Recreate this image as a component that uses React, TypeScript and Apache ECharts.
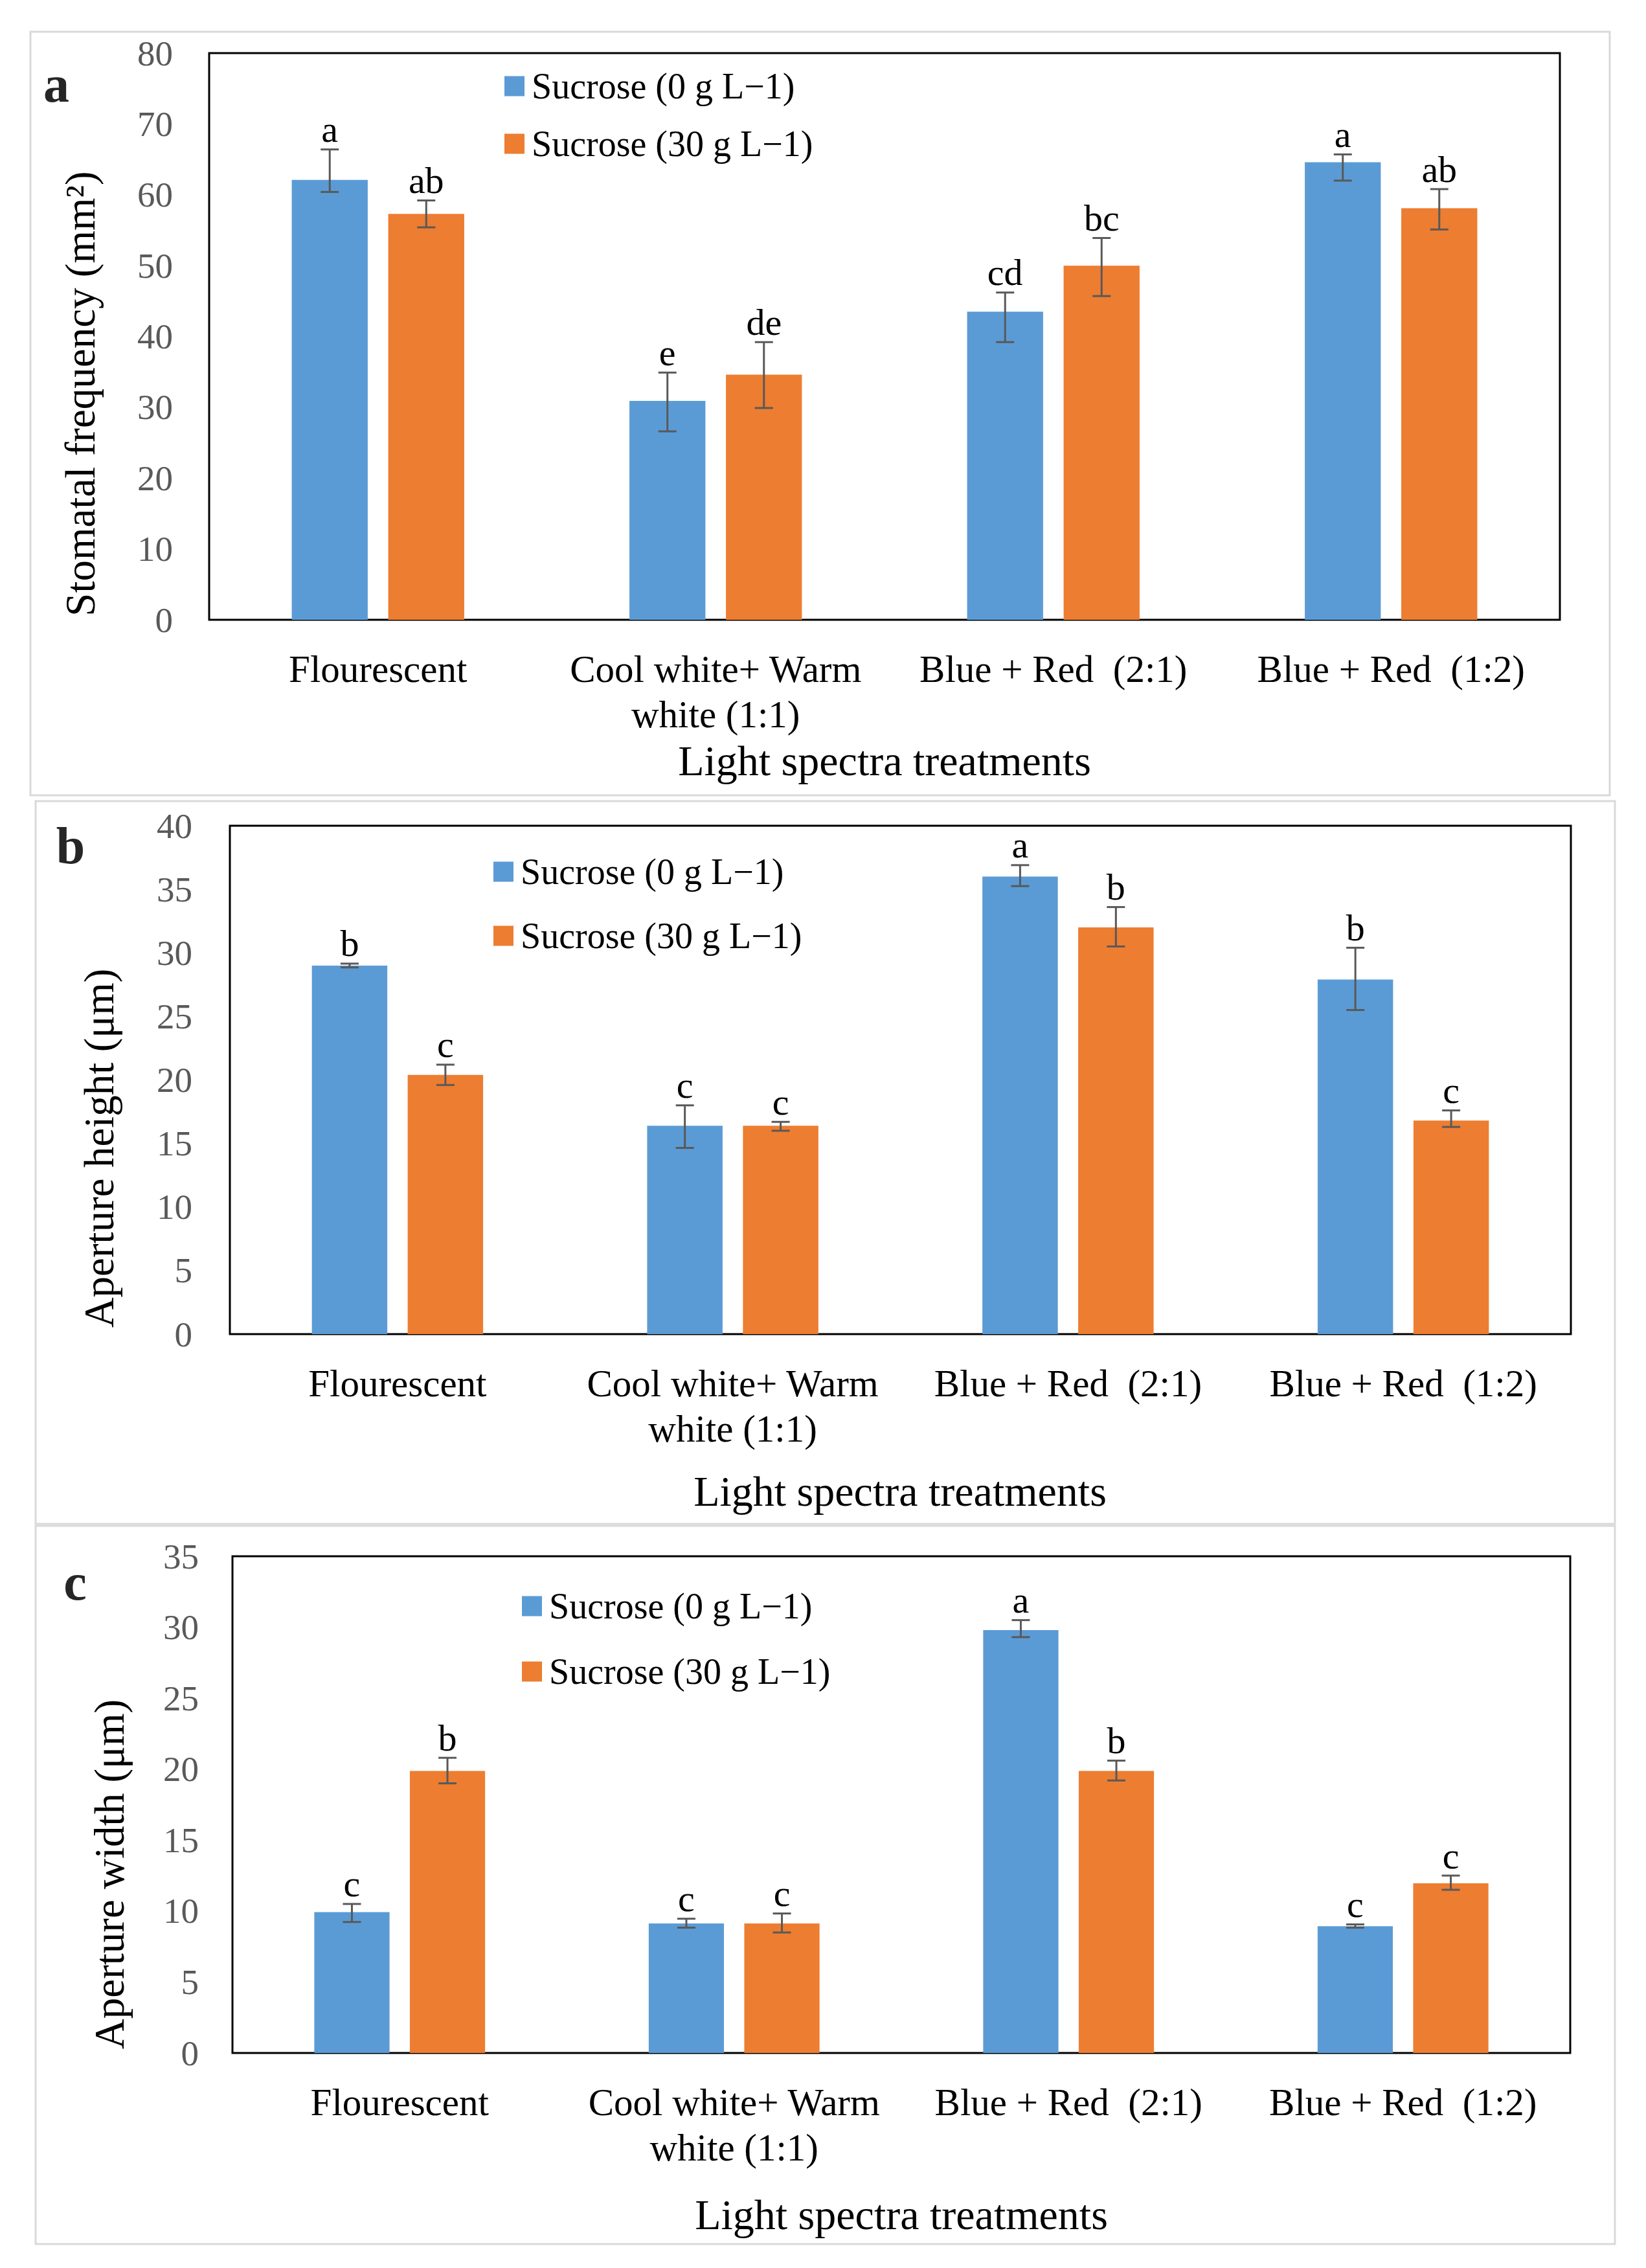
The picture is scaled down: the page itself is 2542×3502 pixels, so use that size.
import React, { useEffect, useRef } from "react";
import * as echarts from "echarts";

// ---------- data ----------
const categories = [
  "Flourescent",
  "Cool white+ Warm\nwhite (1:1)",
  "Blue + Red  (2:1)",
  "Blue + Red  (1:2)",
];
const seriesNames = ["Sucrose (0 g L−1)", "Sucrose (30 g L−1)"];

// Panel a: stomatal frequency
const freq0 = [62.1, 30.9, 43.5, 64.6];
const freq0Lo = [60.4, 26.6, 39.2, 62.0];
const freq0Hi = [66.4, 34.9, 46.2, 65.7];
const freq30 = [57.3, 34.6, 50.0, 58.1];
const freq30Lo = [55.4, 29.9, 45.7, 55.1];
const freq30Hi = [59.2, 39.2, 53.9, 60.8];
const freqLetters0 = ["a", "e", "cd", "a"];
const freqLetters30 = ["ab", "de", "bc", "ab"];

// Panel b: aperture height
const height0 = [29.0, 16.4, 36.0, 27.9];
const height0Lo = [28.85, 14.65, 35.25, 25.5];
const height0Hi = [29.15, 18.0, 36.9, 30.4];
const height30 = [20.4, 16.4, 32.0, 16.8];
const height30Lo = [19.6, 16.0, 30.5, 16.3];
const height30Hi = [21.2, 16.7, 33.6, 17.6];
const heightLetters0 = ["b", "c", "a", "b"];
const heightLetters30 = ["c", "c", "b", "c"];

// Panel c: aperture width
const width0 = [9.93, 9.13, 29.8, 8.93];
const width0Lo = [9.23, 8.83, 29.3, 8.83];
const width0Hi = [10.5, 9.46, 30.5, 9.06];
const width30 = [19.87, 9.13, 19.87, 11.95];
const width30Lo = [19.0, 8.49, 19.2, 11.5];
const width30Hi = [20.8, 9.83, 20.6, 12.5];
const widthLetters0 = ["c", "c", "a", "c"];
const widthLetters30 = ["b", "c", "b", "c"];

const yMax = [80, 40, 35];
const yStep = [10, 5, 5];
const yTitles = ["Stomatal frequency (mm²)", "Aperture height (μm)", "Aperture width (μm)"];
const panelLetters = ["a", "b", "c"];
const xTitle = "Light spectra treatments";

// ---------- styling / layout ----------
const FONT = '"Liberation Serif", "Times New Roman", serif';
const BLUE = "#5B9BD5";
const ORANGE = "#ED7D31";
const ERR = "#595959";
const BAR_FRAC = 0.225;
const GAP_FRAC = 0.27;

const layouts = [
  {
    box: [47, 49, 2486, 1228],
    grid: { left: 323, top: 82, width: 2086, height: 875 },
    legend: { left: 779, top: 105, gap: 33 },
    label: { x: 87, y: 130 },
    yTitle: { x: 124, y: 608 },
    xTitle: { x: 1366, y: 1174 },
    tickMargin: 56,
  },
  {
    box: [55, 1237, 2494, 2353],
    grid: { left: 355, top: 1275, width: 2071, height: 785 },
    legend: { left: 762, top: 1318, gap: 43 },
    label: { x: 109, y: 1306 },
    yTitle: { x: 153, y: 1773 },
    xTitle: { x: 1390, y: 2302 },
    tickMargin: 58,
  },
  {
    box: [55, 2356, 2494, 3465],
    grid: { left: 359, top: 2403, width: 2066, height: 767 },
    legend: { left: 806, top: 2452, gap: 45 },
    label: { x: 116, y: 2443 },
    yTitle: { x: 169, y: 2894 },
    xTitle: { x: 1392, y: 3419 },
    tickMargin: 52,
  },
];

const panels = [
  {
    v0: freq0, lo0: freq0Lo, hi0: freq0Hi, v30: freq30, lo30: freq30Lo, hi30: freq30Hi,
    l0: freqLetters0, l30: freqLetters30,
  },
  {
    v0: height0, lo0: height0Lo, hi0: height0Hi, v30: height30, lo30: height30Lo, hi30: height30Hi,
    l0: heightLetters0, l30: heightLetters30,
  },
  {
    v0: width0, lo0: width0Lo, hi0: width0Hi, v30: width30, lo30: width30Lo, hi30: width30Hi,
    l0: widthLetters0, l30: widthLetters30,
  },
];

function buildOption() {
  const grid: any[] = [];
  const xAxis: any[] = [];
  const yAxis: any[] = [];
  const legend: any[] = [];
  const series: any[] = [];
  const graphic: any[] = [];

  panels.forEach((p, i) => {
    const L = layouts[i];
    grid.push({
      left: L.grid.left,
      top: L.grid.top,
      width: L.grid.width,
      height: L.grid.height,
      show: true,
      borderColor: "#000",
      borderWidth: 3,
      backgroundColor: "transparent",
      containLabel: false,
    });
    xAxis.push({
      type: "category",
      gridIndex: i,
      data: categories,
      axisLine: { show: false },
      axisTick: { show: false },
      splitLine: { show: false },
      axisLabel: {
        interval: 0,
        margin: 41,
        fontFamily: FONT,
        fontSize: 59,
        lineHeight: 70,
        color: "#000",
      },
    });
    yAxis.push({
      type: "value",
      gridIndex: i,
      min: 0,
      max: yMax[i],
      interval: yStep[i],
      axisLine: { show: false },
      axisTick: { show: false },
      splitLine: { show: false },
      axisLabel: {
        margin: L.tickMargin,
        fontFamily: FONT,
        fontSize: 55,
        color: "#595959",
      },
    });
    legend.push({
      orient: "vertical",
      left: L.legend.left,
      top: L.legend.top,
      itemWidth: 31,
      itemHeight: 31,
      itemGap: L.legend.gap,
      icon: "rect",
      padding: 0,
      selectedMode: false,
      data: seriesNames,
      textStyle: { fontFamily: FONT, fontSize: 56, color: "#000", padding: [0, 0, 0, 6] },
    });

    const vals = [p.v0, p.v30];
    vals.forEach((v, s) => {
      series.push({
        type: "bar",
        name: seriesNames[s],
        xAxisIndex: i,
        yAxisIndex: i,
        data: v,
        barWidth: BAR_FRAC * 100 + "%",
        barGap: GAP_FRAC * 100 + "%",
        itemStyle: { color: s === 0 ? BLUE : ORANGE },
        z: 2,
      });
    });

    const errData: any[] = [];
    const letters: string[] = [];
    for (let c = 0; c < categories.length; c++) {
      errData.push([c, p.lo0[c], p.hi0[c], 0]);
      letters.push(p.l0[c]);
      errData.push([c, p.lo30[c], p.hi30[c], 1]);
      letters.push(p.l30[c]);
    }
    series.push({
      type: "custom",
      name: "errors-" + i,
      xAxisIndex: i,
      yAxisIndex: i,
      z: 5,
      clip: false,
      data: errData,
      renderItem: (params: any, api: any) => {
        const ci = api.value(0);
        const lo = api.value(1);
        const hi = api.value(2);
        const s = api.value(3);
        const band = api.size([1, 0])[0];
        const bw = band * BAR_FRAC;
        const off = (s === 0 ? -1 : 1) * (bw + bw * GAP_FRAC) / 2;
        const pLo = api.coord([ci, lo]);
        const pHi = api.coord([ci, hi]);
        const x = pLo[0] + off;
        const cap = 14;
        const ls = { stroke: ERR, lineWidth: 3 };
        const txt = letters[params.dataIndex];
        return {
          type: "group",
          children: [
            { type: "line", shape: { x1: x, y1: pLo[1], x2: x, y2: pHi[1] }, style: ls },
            { type: "line", shape: { x1: x - cap, y1: pLo[1], x2: x + cap, y2: pLo[1] }, style: ls },
            { type: "line", shape: { x1: x - cap, y1: pHi[1], x2: x + cap, y2: pHi[1] }, style: ls },
            {
              type: "text",
              style: {
                text: txt,
                x: x,
                y: pHi[1] - 2,
                align: "center",
                verticalAlign: "bottom",
                textAlign: "center",
                textVerticalAlign: "bottom",
                font: '58px "Liberation Serif", serif',
                fill: "#000",
              },
            },
          ],
        };
      },
    });

    // outer panel frame
    graphic.push({
      type: "rect",
      z: -1,
      shape: { x: L.box[0], y: L.box[1], width: L.box[2] - L.box[0], height: L.box[3] - L.box[1] },
      style: { fill: "none", stroke: "#d9d9d9", lineWidth: 3 },
    });
    // panel letter
    graphic.push({
      type: "text",
      x: L.label.x,
      y: L.label.y,
      style: {
        text: panelLetters[i],
        align: "center",
        verticalAlign: "middle",
        textAlign: "center",
        textVerticalAlign: "middle",
        font: 'bold 80px "Liberation Serif", serif',
        fill: "#262626",
      },
    });
    // y title
    graphic.push({
      type: "text",
      x: L.yTitle.x,
      y: L.yTitle.y,
      rotation: Math.PI / 2,
      style: {
        text: yTitles[i],
        align: "center",
        verticalAlign: "middle",
        textAlign: "center",
        textVerticalAlign: "middle",
        font: '65px "Liberation Serif", serif',
        fill: "#000",
      },
    });
    // x title
    graphic.push({
      type: "text",
      x: L.xTitle.x,
      y: L.xTitle.y,
      style: {
        text: xTitle,
        align: "center",
        verticalAlign: "middle",
        textAlign: "center",
        textVerticalAlign: "middle",
        font: '66px "Liberation Serif", serif',
        fill: "#000",
      },
    });
  });

  return {
    animation: false,
    backgroundColor: "#fff",
    grid,
    xAxis,
    yAxis,
    legend,
    series,
    graphic,
  };
}

export default function App() {
  const ref = useRef<HTMLDivElement>(null);
  useEffect(() => {
    document.body.style.margin = "0";
    if (!ref.current) return;
    const chart = echarts.init(ref.current, null, { renderer: "svg" });
    chart.setOption(buildOption());
    return () => chart.dispose();
  }, []);
  return <div ref={ref} style={{ width: 2542, height: 3502 }} />;
}
